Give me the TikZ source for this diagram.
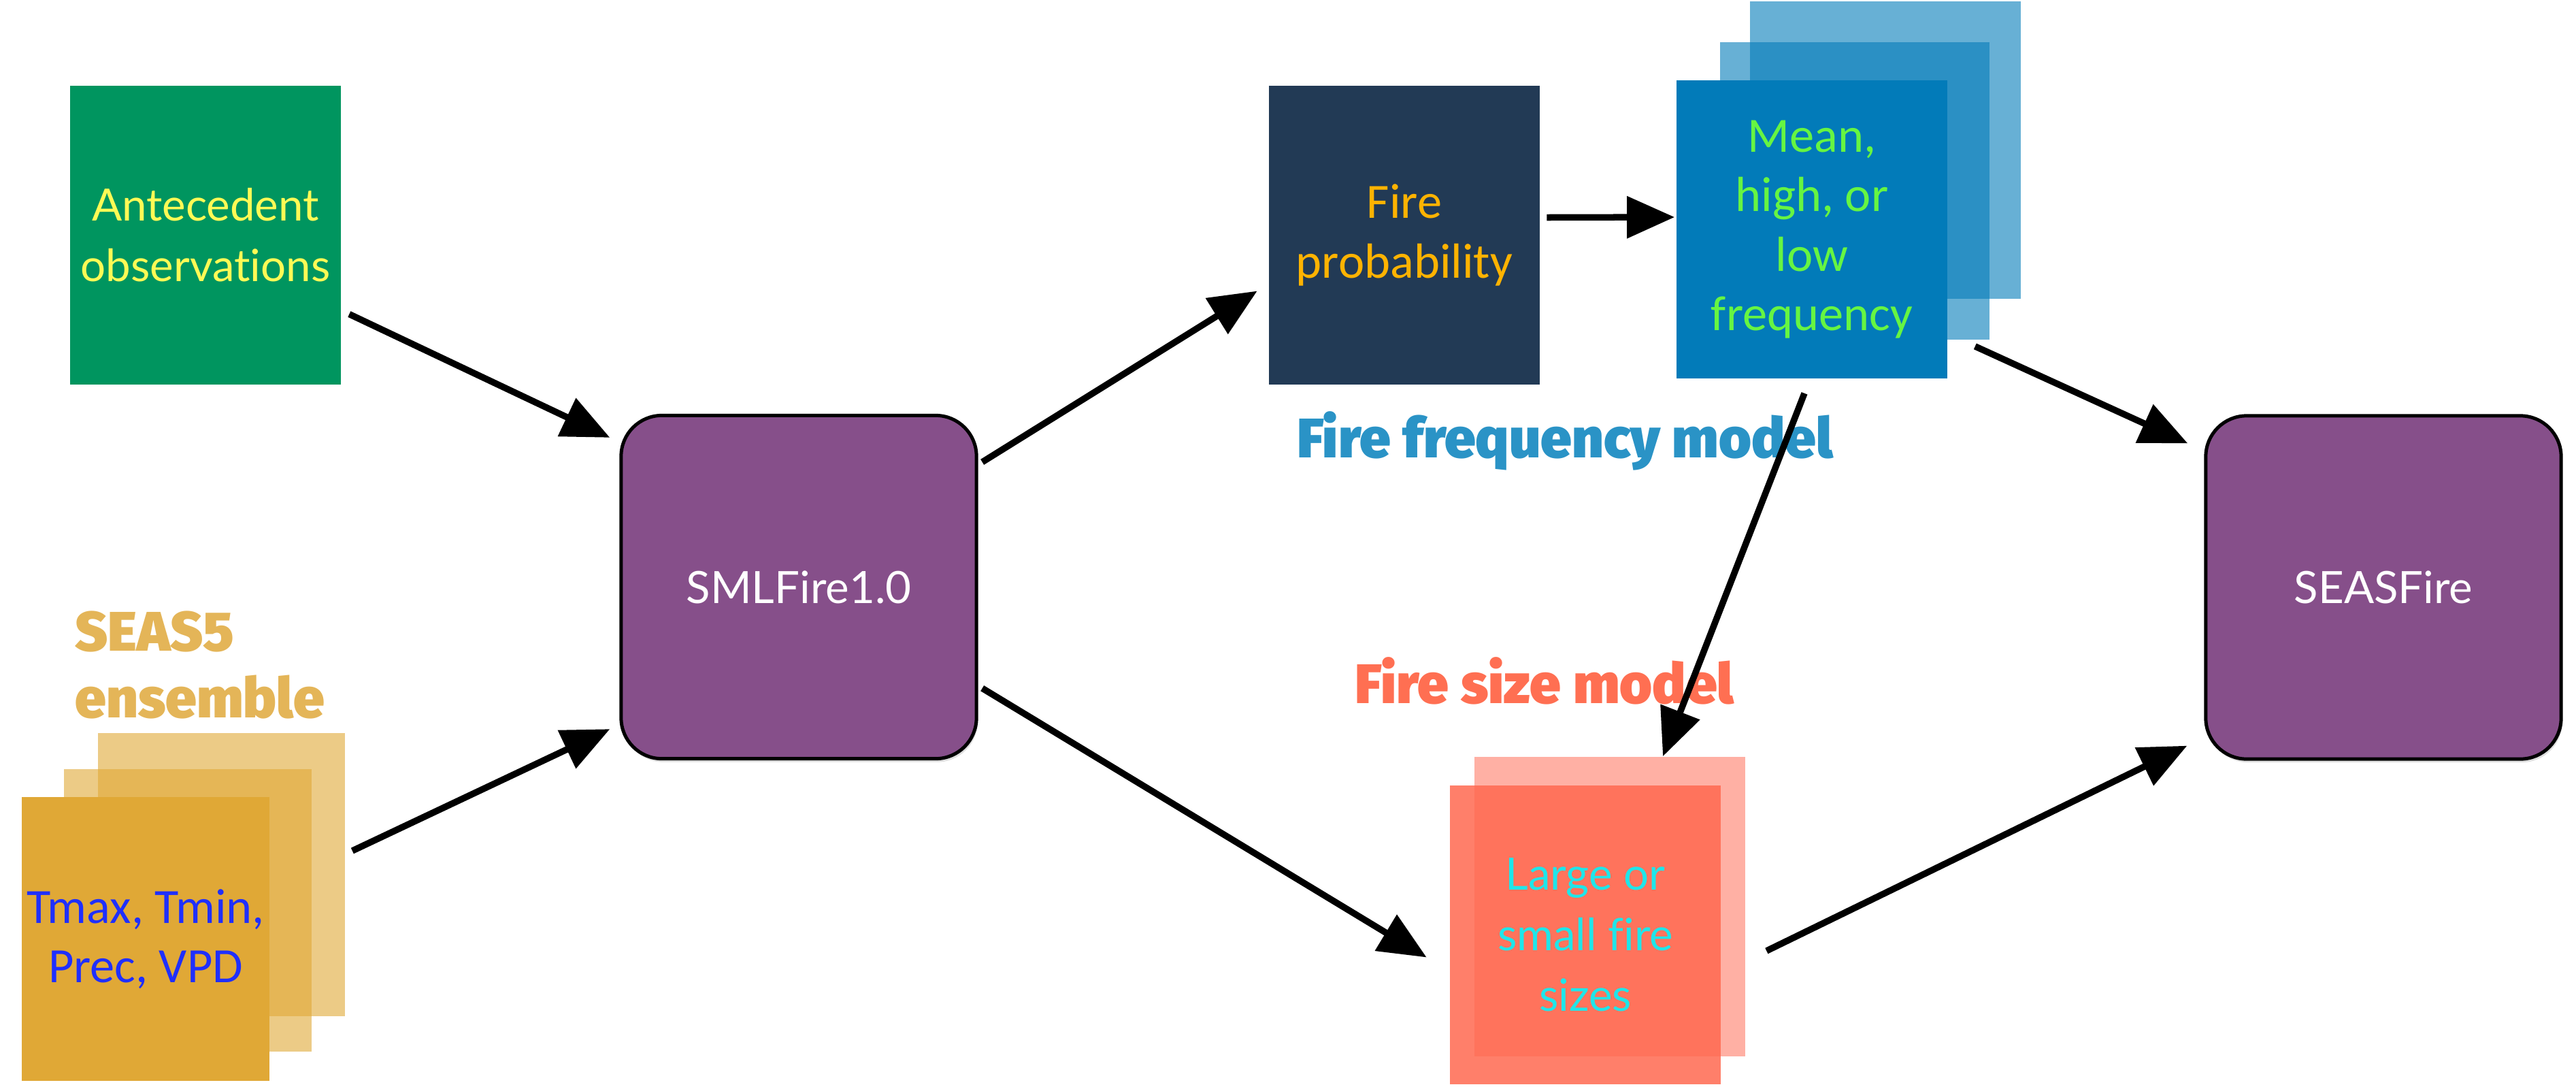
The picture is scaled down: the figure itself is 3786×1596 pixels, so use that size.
\documentclass[tikz,border=0pt]{standalone}
\usepackage{fontspec}
\setmainfont{Lato}[Ligatures=NoCommon]
\newfontfamily\calibri{Carlito}
\newfontfamily\heavyfont{Fira Sans Black}
\usetikzlibrary{arrows.meta,shadows}
\definecolor{obsgreen}{HTML}{00955F}
\definecolor{obsyellow}{HTML}{FFFA55}
\definecolor{smlpurple}{HTML}{864F8A}
\definecolor{probnavy}{HTML}{223A55}
\definecolor{probamber}{HTML}{FFB300}
\definecolor{freqblue}{HTML}{027BB9}
\definecolor{freqtag}{HTML}{2A93C6}
\definecolor{freqlime}{HTML}{66F542}
\definecolor{sizered}{HTML}{FF6850}
\definecolor{sizetag}{HTML}{FF6F52}
\definecolor{sizecyan}{HTML}{1EE6EA}
\definecolor{seasgold}{HTML}{E0A836}
\definecolor{seastag}{HTML}{E4B558}
\definecolor{seasblue}{HTML}{1F2FFF}
\newcommand{\avfont}{\fontsize{18.6}{25.3}\selectfont}
\newcommand{\clfont}{\calibri\fontsize{20.6}{24.9}\selectfont}
\tikzstyle{card} = [rectangle, inner sep=0pt, align=center, minimum width=3.97cm, minimum height=4.38cm]
\tikzstyle{layer} = [card, fill opacity=0.6]
\tikzstyle{model} = [rectangle, rounded corners=0.6cm, draw=black, line width=0.05cm, fill=smlpurple,
	minimum width=5.22cm, minimum height=5.04cm, text=white, font=\avfont,
	drop shadow={shadow xshift=0.02cm, shadow yshift=-0.05cm, opacity=0.25}]
\tikzstyle{tag} = [inner sep=0pt, font=\heavyfont\fontsize{23.3}{27.9}\selectfont]
\tikzstyle{arr} = [-{Triangle[length=0.7cm, width=0.6cm]}, line width=0.095cm, black]

\begin{document}
\begin{tikzpicture}[x=0.01cm, y=-0.01cm]
	\useasboundingbox (0,0) rectangle (3786,1596);
	% inputs
	\node [card, fill=obsgreen, text=obsyellow, font=\avfont] (obs) at (302,345.5) {Antecedent\\observations};
	\node [layer, fill=seasgold, minimum width=3.63cm, minimum height=4.16cm] (seasC) at (325.5,1285) {};
	\node [layer, fill=seasgold, minimum width=3.64cm, minimum height=4.15cm] (seasB) at (276,1337.5) {};
	\node [card, fill=seasgold, text=seasblue, font=\clfont, minimum width=3.64cm, minimum height=4.17cm] (seas) at (214,1379.5) {Tmax, Tmin,\\Prec, VPD};
	\node [tag, text=seastag, anchor=north west, align=left] (seastag) at (110,897) {SEAS5\\ensemble};
	% models
	\node [model] (sml) at (1174,862.5) {SMLFire1.0};
	\node [model] (seasfire) at (3503,863) {SEASFire};
	% fire frequency
	\node [card, fill=probnavy, text=probamber, font=\clfont] (prob) at (2064,345.5) {Fire\\probability};
	\node [layer, fill=freqblue, minimum width=3.98cm, minimum height=4.37cm] (freqC) at (2771,220.5) {};
	\node [layer, fill=freqblue, minimum width=3.96cm, minimum height=4.37cm] (freqB) at (2726,280.5) {};
	\node [card, fill=freqblue, text=freqlime, font=\clfont, minimum width=3.98cm] (freq) at (2663,337) {Mean,\\high, or\\low\\frequency};
	\node [tag, text=freqtag, anchor=base] (freqlabel) at (2300,672) {Fire frequency model};
	% fire size
	\node [layer, fill=sizered, fill opacity=0.52, minimum height=4.40cm] (sizeB) at (2366,1332) {};
	\node [card, fill=sizered, fill opacity=0.85, text opacity=1, text=sizecyan, font=\avfont, minimum height=4.39cm] (size) at (2330,1373.5) {Large or\\small fire\\sizes};
	\node [tag, text=sizetag, anchor=base] (sizelabel) at (2270,1033) {Fire size model};
	% connectors
	\draw [arr] ([shift={(12,116)}]obs.east) -- ([shift={(-14,35)}]sml.north west);
	\draw [arr] ([shift={(10,-35)}]seasC.east) -- ([shift={(-14,-46)}]sml.south west);
	\draw [arr] ([shift={(6,71)}]sml.north east) -- ([shift={(-17,82)}]prob.west);
	\draw [arr] ([shift={(10,-26)}]prob.east) -- ([shift={(-2,-18)}]freq.west);
	\draw [arr] ([shift={(-11,21)}]freq.south) -- ([shift={(78,0)}]sizeB.north);
	\draw [arr] ([shift={(-22,9)}]freqB.south east) -- ([shift={(-24,43)}]seasfire.north west);
	\draw [arr] ([shift={(6,-106)}]sml.south east) -- ([shift={(-34,33)}]size.west);
	\draw [arr] ([shift={(31,65)}]sizeB.east) -- ([shift={(-25,-22)}]seasfire.south west);
	%\draw [arr] (sml) -- (seasfire);
\end{tikzpicture}
\end{document}
